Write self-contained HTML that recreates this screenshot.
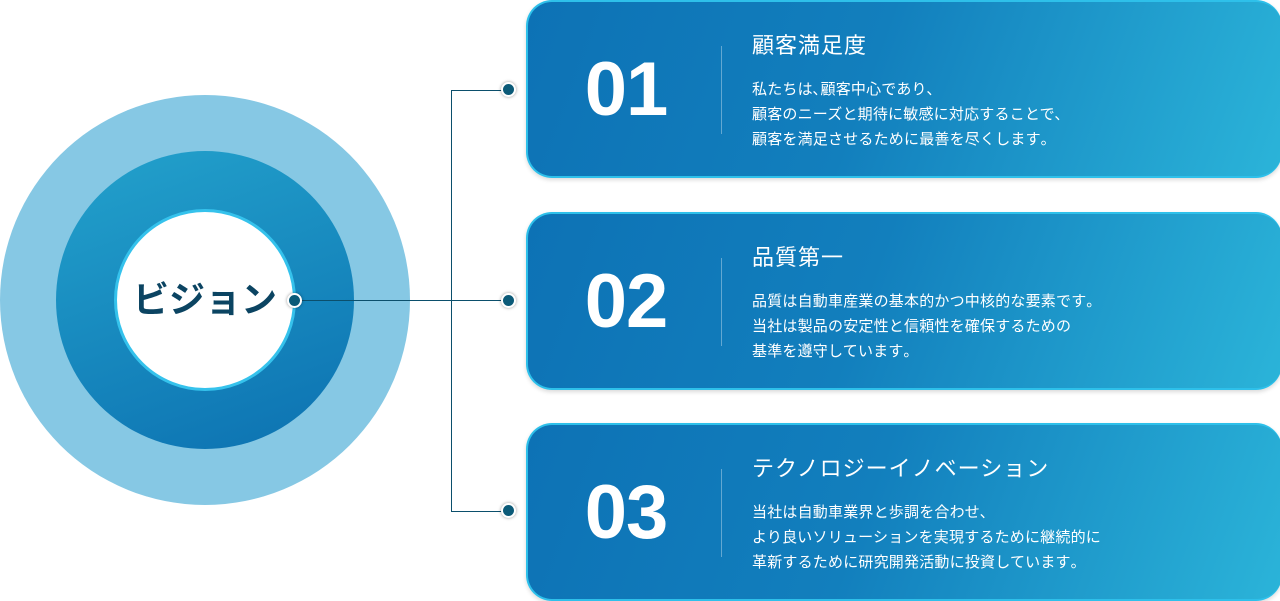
<!DOCTYPE html>
<html><head><meta charset="utf-8"><style>
*{margin:0;padding:0;box-sizing:border-box}
body{width:1280px;height:600px;background:#fff;position:relative;overflow:hidden;font-family:"Liberation Sans","Noto Sans CJK JP",sans-serif}
.c{position:absolute;border-radius:50%}
.card{position:absolute;left:526px;width:756px;height:178px;border-radius:26px;background:linear-gradient(110deg,#0d72b5 0%,#127fbd 45%,#2bb4d9 100%);border:2px solid #2ec0ea;border-right:none;box-shadow:0 2px 4px rgba(0,0,0,.15)}
.num{position:absolute;left:50px;top:50px;width:96px;text-align:center;color:#fff;font-size:76px;font-weight:bold;line-height:76px;letter-spacing:-1px}
.div{position:absolute;left:193px;top:44px;width:1px;height:88px;background:rgba(255,255,255,.35)}
.t{position:absolute;left:224px;top:30px;color:#fff;font-size:22px;line-height:28px;letter-spacing:1px}
.b{position:absolute;left:224px;top:75px;color:#fff;font-size:15px;line-height:25px;letter-spacing:0.2px}
.dot{position:absolute;width:15px;height:15px;border-radius:50%;background:#0b5a78;border:2px solid #fff;box-shadow:0 0 3px rgba(0,0,0,.4)}
.ln{position:absolute;background:#0b4f6c}
</style></head><body>
<div class="c" style="left:0;top:95px;width:410px;height:410px;background:#86c8e4"></div>
<div class="c" style="left:56px;top:151px;width:298px;height:298px;background:linear-gradient(160deg,#23a2cc,#0c71b1)"></div>
<div class="c" style="left:114px;top:209px;width:182px;height:182px;background:#fff;border:3px solid #35c2ec"></div>
<div style="position:absolute;left:114px;top:272px;width:182px;text-align:center;font-size:36px;font-weight:bold;color:#0b4462;line-height:56px">ビジョン</div>
<div class="ln" style="left:295px;top:300px;width:214px;height:1px"></div>
<div class="ln" style="left:451px;top:90px;width:1px;height:421px"></div>
<div class="ln" style="left:451px;top:90px;width:58px;height:1px"></div>
<div class="ln" style="left:451px;top:511px;width:58px;height:1px"></div>
<div class="dot" style="left:287px;top:293px"></div>
<div class="dot" style="left:501px;top:82px"></div>
<div class="dot" style="left:501px;top:293px"></div>
<div class="dot" style="left:501px;top:503px"></div>

<div class="card" style="top:0"><div class="num">01</div><div class="div"></div><div class="t">顧客満足度</div><div class="b">私たちは､顧客中心であり､<br>顧客のニーズと期待に敏感に対応することで､<br>顧客を満足させるために最善を尽くします｡</div></div>
<div class="card" style="top:212px"><div class="num">02</div><div class="div"></div><div class="t">品質第一</div><div class="b">品質は自動車産業の基本的かつ中核的な要素です｡<br>当社は製品の安定性と信頼性を確保するための<br>基準を遵守しています｡</div></div>
<div class="card" style="top:423px"><div class="num">03</div><div class="div"></div><div class="t">テクノロジーイノベーション</div><div class="b">当社は自動車業界と歩調を合わせ､<br>より良いソリューションを実現するために継続的に<br>革新するために研究開発活動に投資しています｡</div></div>
</body></html>
